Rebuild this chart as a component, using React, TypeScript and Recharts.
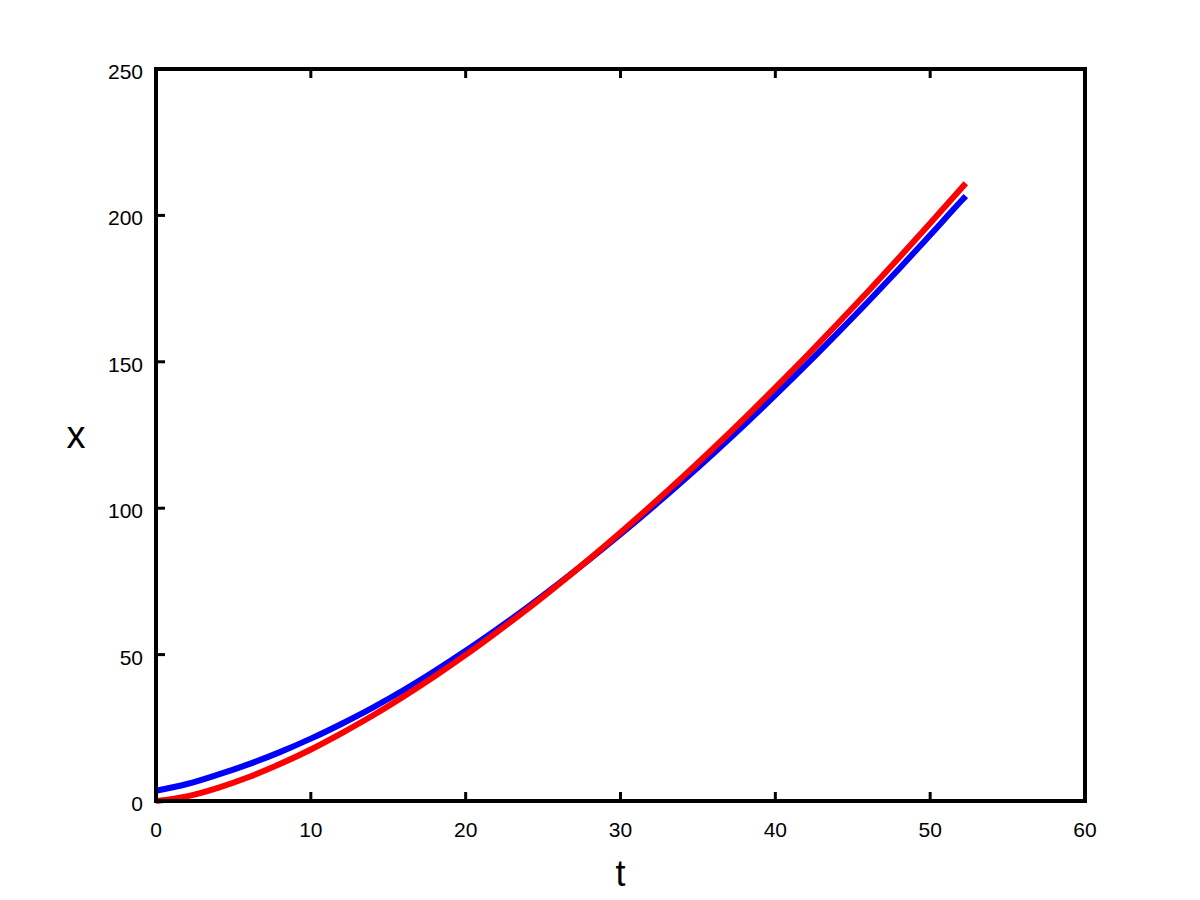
import { Line, LineChart, XAxis, YAxis } from "recharts";

// t samples and the two x(t) curves
const T = [0, 2, 4, 6, 8, 10, 12, 14, 16, 18, 20, 22, 24, 26, 28, 30, 32, 34, 36, 38, 40, 42, 44, 46, 48, 50, 52, 52.3];
const BLUE = [3.5, 5.8, 9.0, 12.6, 16.7, 21.3, 26.4, 31.9, 37.9, 44.4, 51.3, 58.6, 66.2, 74.2, 82.5, 91.1, 100, 109.2, 118.7, 128.5, 138.6, 149, 159.7, 170.6, 181.8, 193.3, 204.9, 206.6];
const RED = [0, 1.6, 4.5, 8.2, 12.6, 17.6, 23.2, 29.2, 35.7, 42.6, 49.9, 57.6, 65.6, 74, 82.7, 91.7, 101, 110.6, 120.5, 130.7, 141.2, 151.9, 162.9, 174.1, 185.6, 197.3, 209.2, 211];

const X_TICKS = [0, 10, 20, 30, 40, 50, 60];
const Y_TICKS = [0, 50, 100, 150, 200, 250];

const data = T.map((t, i) => ({ t, blue: BLUE[i], red: RED[i] }));

const FONT = "'Liberation Sans', Arial, sans-serif";
const FRAME = { stroke: "#000", strokeWidth: 4, strokeLinecap: "square" as const };
const TICK_LEN = 9;

// ticks point into the plot box; labels sit outside (octave style)
function BottomTick({ x, y, payload }: any) {
  const inner = payload.value === 0 || payload.value === 60 ? null : (
    <line x1={x} x2={x} y1={y} y2={y - TICK_LEN} stroke="#000" strokeWidth={3} />
  );
  return (
    <g>
      {inner}
      <text x={x} y={y + 36} textAnchor="middle" fill="#000" fontSize={21} fontFamily={FONT}>
        {payload.value}
      </text>
    </g>
  );
}

function LeftTick({ x, y, payload }: any) {
  const inner = payload.value === 0 || payload.value === 250 ? null : (
    <line x1={x} x2={x + TICK_LEN} y1={y} y2={y} stroke="#000" strokeWidth={3} />
  );
  return (
    <g>
      {inner}
      <text x={x - 13} y={y + 10} textAnchor="end" fill="#000" fontSize={21} fontFamily={FONT}>
        {payload.value}
      </text>
    </g>
  );
}

function TopTick({ x, y, payload }: any) {
  if (payload.value === 0 || payload.value === 60) return <g />;
  return <line x1={x} x2={x} y1={y} y2={y + TICK_LEN} stroke="#000" strokeWidth={3} />;
}

function RightTick({ x, y, payload }: any) {
  if (payload.value === 0 || payload.value === 250) return <g />;
  return <line x1={x} x2={x - TICK_LEN} y1={y} y2={y} stroke="#000" strokeWidth={3} />;
}

export default function App() {
  return (
    <div style={{ position: "absolute", left: 0, top: 0, width: 1200, height: 900, background: "#fff" }}>
      <LineChart width={1200} height={900} data={data} margin={{ top: 68, right: 114, bottom: 0, left: 0 }}>
        <XAxis
          dataKey="t"
          type="number"
          domain={[0, 60]}
          ticks={X_TICKS}
          interval={0}
          height={99}
          axisLine={FRAME}
          tickLine={false}
          tickSize={0}
          tickMargin={0}
          tick={BottomTick}
          label={{ value: "t", position: "insideBottom", offset: 14, fill: "#000", fontSize: 36, fontFamily: FONT }}
        />
        <XAxis
          xAxisId="top"
          orientation="top"
          dataKey="t"
          type="number"
          domain={[0, 60]}
          ticks={X_TICKS}
          interval={0}
          height={1}
          axisLine={FRAME}
          tickLine={false}
          tickSize={0}
          tickMargin={0}
          tick={TopTick}
        />
        <YAxis
          type="number"
          domain={[0, 250]}
          ticks={Y_TICKS}
          interval={0}
          width={156}
          axisLine={FRAME}
          tickLine={false}
          tickSize={0}
          tickMargin={0}
          tick={LeftTick}
          label={{ value: "x", position: "center", dx: -2, fill: "#000", fontSize: 38, fontFamily: FONT }}
        />
        <YAxis
          yAxisId="right"
          orientation="right"
          type="number"
          domain={[0, 250]}
          ticks={Y_TICKS}
          interval={0}
          width={1}
          axisLine={FRAME}
          tickLine={false}
          tickSize={0}
          tickMargin={0}
          tick={RightTick}
        />
        <Line dataKey="blue" type="monotone" stroke="#0000ff" strokeWidth={6} dot={false} isAnimationActive={false} />
        <Line dataKey="red" type="monotone" stroke="#ff0000" strokeWidth={6} dot={false} isAnimationActive={false} />
      </LineChart>
    </div>
  );
}
